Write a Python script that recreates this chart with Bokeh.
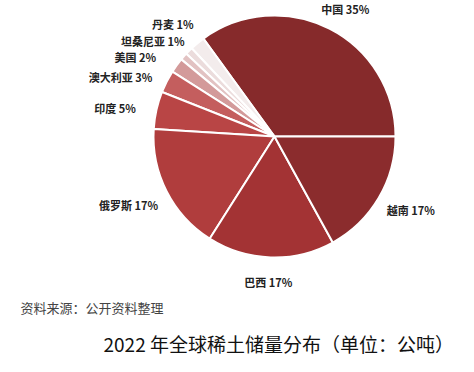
import math
from bokeh.plotting import figure
from bokeh.models import ColumnDataSource, Range1d
from bokeh.core.properties import value
from bokeh.embed import file_html
from bokeh.resources import INLINE

# ---- data ----
countries = ["中国", "其他", "丹麦", "坦桑尼亚", "美国", "澳大利亚", "印度", "俄罗斯", "巴西", "越南"]
shares = [35, 2, 1, 1, 2, 3, 5, 17, 17, 17]
pct_labels = ["35%", "", "1%", "1%", "2%", "3%", "5%", "17%", "17%", "17%"]
colors = ["#862a2b", "#f3ecec", "#ebdcdc", "#e2c2c2", "#d39a9a", "#c45e5e",
          "#b94545", "#b03d3d", "#a33334", "#8b2c2d"]
title_text = "2022 年全球稀土储量分布（单位：公吨）"
source_text = "资料来源：公开资料整理"

# ---- layout (screen-like coordinates: x right, y up; page 474x372) ----
W, H = 458, 356
p = figure(width=W, height=H, output_backend="svg", toolbar_location=None,
           x_range=Range1d(0, W), y_range=Range1d(372 - H, 372),
           min_border=0)
p.axis.visible = False
p.grid.visible = False
p.outline_line_color = None
p.background_fill_color = "white"

cx, cy, R = 274, 372 - 136, 121
total = float(sum(shares))
starts, ends = [], []
acc = 0.0
for s in shares:
    starts.append(2 * math.pi * acc / total)
    acc += s
    ends.append(2 * math.pi * acc / total)

src = ColumnDataSource(dict(x=[cx] * len(shares), y=[cy] * len(shares),
                            start=starts, end=ends, color=colors))
p.wedge(x="x", y="y", radius=R, start_angle="start", end_angle="end",
        fill_color="color", line_color="white", line_width=2, source=src)

# label placement (angle in degrees, radius in px) per slice
label_pos = {"中国": (61, 146), "越南": (331.5, 155), "巴西": (267.6, 146),
             "俄罗斯": (205, 161), "印度": (169.7, 162), "澳大利亚": (159, 165),
             "美国": (150.4, 160), "坦桑尼亚": (141.8, 155), "丹麦": (132, 152)}
lx, ly, lt = [], [], []
for c, pl in zip(countries, pct_labels):
    if not pl:
        continue
    a, r = label_pos[c]
    lx.append(cx + r * math.cos(math.radians(a)))
    ly.append(cy + r * math.sin(math.radians(a)))
    lt.append(c + " " + pl)
p.text(x=lx, y=ly, text=lt, text_align="center", text_baseline="middle",
       text_font=value("Noto Sans CJK SC"), text_font_style="bold",
       text_font_size="11px", text_color="#222222")

p.text(x=[20], y=[372 - 307], text=[source_text], text_align="left",
       text_baseline="middle", text_font=value("Noto Sans CJK SC"),
       text_font_size="13px", text_color="#444444")
p.text(x=[103], y=[372 - 343], text=[title_text], text_align="left",
       text_baseline="middle", text_font=value("Noto Sans CJK SC"),
       text_font_size="19px", text_color="#111111")

open("out.html", "w").write(file_html(p, INLINE))
